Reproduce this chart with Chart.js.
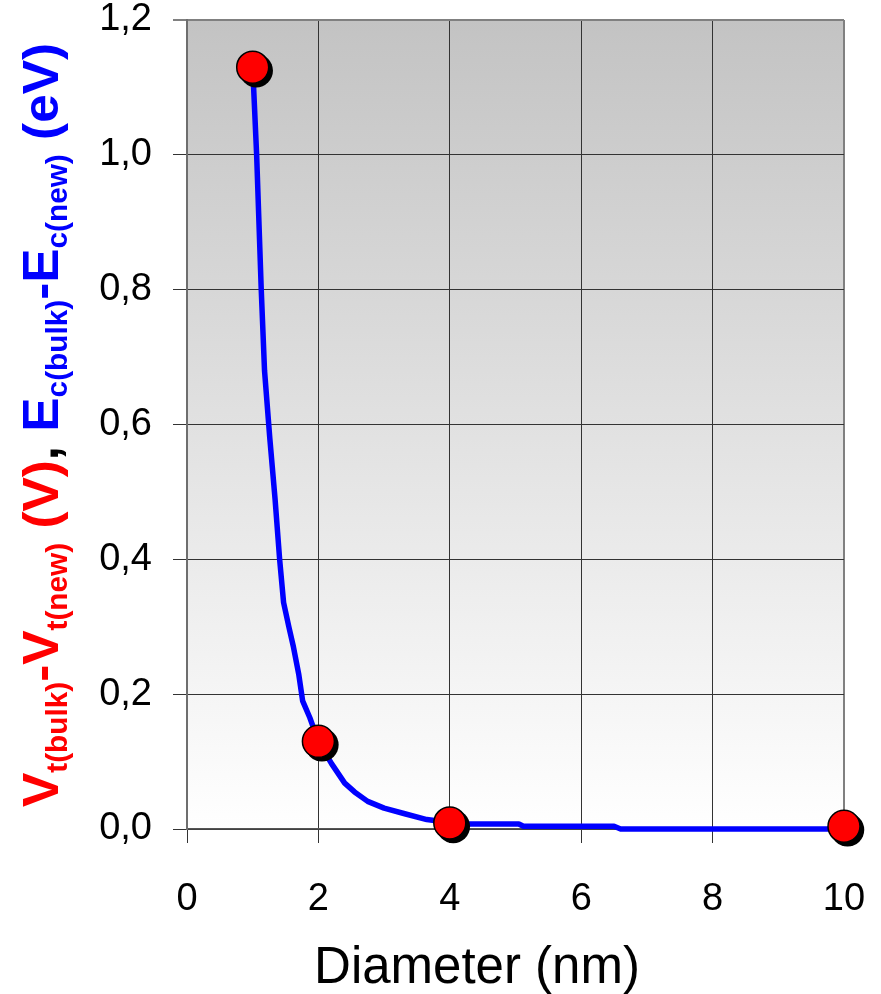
<!DOCTYPE html>
<html>
<head>
<meta charset="utf-8">
<script src="https://cdn.jsdelivr.net/npm/chart.js@4/dist/chart.umd.min.js"></script>
<style>
  html, body { margin: 0; padding: 0; background: #ffffff; }
  canvas { display: block; }
</style>
</head>
<body>
<canvas id="c" width="881" height="994"></canvas>
<script>
// Measured shift for each quantum-dot diameter (nm)
const markerDiameters = [1, 2, 4, 10];
const markerShifts = [1.13, 0.13, 0.009, 0.004];

// Fitted curve through the measured shifts
const curveDiameters = [1.0, 1.06, 1.13, 1.18, 1.26, 1.34, 1.41, 1.47, 1.55, 1.62, 1.70, 1.76, 1.87, 2.0,
  2.2, 2.4, 2.55, 2.75, 3.0, 3.3, 3.65, 4.0, 4.3, 5.05, 5.12, 6.5, 6.6, 10];
const curveShifts = [1.13, 1.0, 0.80, 0.68, 0.58, 0.49, 0.40, 0.336, 0.30, 0.27, 0.23, 0.19, 0.165, 0.13,
  0.097, 0.068, 0.055, 0.041, 0.031, 0.023, 0.014, 0.0096, 0.0075, 0.0075, 0.004, 0.004, 0.0, 0.0];

// Axis tick labels
const xTickLabels = ['0', '2', '4', '6', '8', '10'];
const yTickLabels = ['0,0', '0,2', '0,4', '0,6', '0,8', '1,0', '1,2'];

// Axis titles
const xTitle = 'Diameter (nm)';
// Y title pieces: [text, colour, isSubscript]
const yTitleParts = [
  ['V', '#ff0000', false],
  ['t(bulk)', '#ff0000', true],
  ['-V', '#ff0000', false],
  ['t(new)', '#ff0000', true],
  [' (V)', '#ff0000', false],
  [',', '#000000', false],
  [' ', '#000000', false],
  ['E', '#0000ff', false],
  ['c(bulk)', '#0000ff', true],
  ['-E', '#0000ff', false],
  ['c(new)', '#0000ff', true],
  [' (eV)', '#0000ff', false]
];

const FONT = '"Liberation Sans", Arial, Helvetica, sans-serif';

const toPoints = (xs, ys) => xs.map((x, i) => ({ x: x, y: ys[i] }));

// Grey gradient behind the plot area
const plotBackground = {
  id: 'plotBackground',
  beforeDraw(chart) {
    const { ctx, chartArea: a } = chart;
    ctx.save();
    ctx.fillStyle = '#ffffff';
    ctx.fillRect(0, 0, chart.width, chart.height);
    const g = ctx.createLinearGradient(0, a.top, 0, a.bottom);
    g.addColorStop(0, '#c3c3c3');
    g.addColorStop(1, '#ffffff');
    ctx.fillStyle = g;
    ctx.fillRect(a.left, a.top, a.right - a.left, a.bottom - a.top);
    ctx.restore();
  }
};

// Solid black drop shadow under each round marker
const markerShadow = {
  id: 'markerShadow',
  beforeDatasetDraw(chart, args) {
    if (args.index !== 0) return;
    const ctx = chart.ctx;
    const meta = chart.getDatasetMeta(0);
    ctx.save();
    ctx.fillStyle = '#000000';
    meta.data.forEach(pt => {
      const r = pt.options.radius + pt.options.borderWidth / 2;
      ctx.beginPath();
      ctx.arc(pt.x + 3.5, pt.y + 3.5, r, 0, Math.PI * 2);
      ctx.fill();
    });
    ctx.restore();
  }
};

// Axis titles, including the two-coloured rotated y title with subscripts
const axisTitles = {
  id: 'axisTitles',
  afterDraw(chart) {
    const ctx = chart.ctx;
    ctx.save();
    // x title
    ctx.fillStyle = '#000000';
    ctx.font = '51px ' + FONT;
    ctx.textAlign = 'center';
    ctx.textBaseline = 'alphabetic';
    ctx.fillText(xTitle, 477, 983);

    // y title
    const mainFont = 'bold 50px ' + FONT;
    const subFont = 'bold 29px ' + FONT;
    const subShift = 9;
    let total = 0;
    const widths = yTitleParts.map(p => {
      ctx.font = p[2] ? subFont : mainFont;
      const w = ctx.measureText(p[0]).width;
      total += w;
      return w;
    });
    const startY = 807, endY = 43;
    const stretch = (startY - endY) / total;
    ctx.translate(58, startY);
    ctx.rotate(-Math.PI / 2);
    ctx.scale(stretch, 1);
    ctx.textAlign = 'left';
    let x = 0;
    yTitleParts.forEach((p, i) => {
      ctx.font = p[2] ? subFont : mainFont;
      ctx.fillStyle = p[1];
      ctx.fillText(p[0], x, p[2] ? subShift : 0);
      x += widths[i];
    });
    ctx.restore();
  }
};

const lastX = xTickLabels.length - 1;
const lastY = yTickLabels.length - 1;

new Chart(document.getElementById('c'), {
  type: 'scatter',
  data: {
    datasets: [
      {
        label: 'markers',
        data: toPoints(markerDiameters, markerShifts),
        pointRadius: 16,
        pointHoverRadius: 16,
        pointBackgroundColor: '#ff0000',
        pointBorderColor: '#000000',
        pointBorderWidth: 1.5,
        showLine: false,
        clip: false,
        order: 0
      },
      {
        label: 'curve',
        data: toPoints(curveDiameters, curveShifts),
        showLine: true,
        borderColor: '#0000ff',
        borderWidth: 5.5,
        borderJoinStyle: 'round',
        borderCapStyle: 'round',
        pointRadius: 0,
        tension: 0,
        clip: false,
        order: 1
      }
    ]
  },
  options: {
    responsive: false,
    animation: false,
    devicePixelRatio: 1,
    layout: { padding: { left: 0, top: 20, right: 37, bottom: 0 } },
    plugins: { legend: { display: false }, tooltip: { enabled: false }, title: { display: false } },
    scales: {
      x: {
        type: 'linear',
        min: 0,
        max: 10,
        afterFit(scale) {
          scale.height = 165;
          scale.paddingLeft = 0;
          scale.paddingRight = 0;
        },
        ticks: {
          stepSize: 2,
          color: '#000000',
          font: { family: FONT, size: 38, lineHeight: 1 },
          padding: 38,
          maxRotation: 0,
          callback: (v, i) => xTickLabels[i]
        },
        grid: {
          color: c => (c.index === lastX ? '#808080' : '#333333'),
          lineWidth: c => (c.index === lastX ? 2 : 1),
          tickLength: 14,
          drawTicks: true
        },
        border: { color: '#555555', width: 1.5 }
      },
      y: {
        type: 'linear',
        min: 0,
        max: 1.2,
        afterFit(scale) {
          scale.width = 187;
          scale.paddingTop = 0;
          scale.paddingBottom = 0;
        },
        ticks: {
          stepSize: 0.2,
          color: '#000000',
          font: { family: FONT, size: 38, lineHeight: 1 },
          padding: 21,
          callback: (v, i) => yTickLabels[i]
        },
        grid: {
          color: c => (c.index === lastY ? '#808080' : '#333333'),
          lineWidth: c => (c.index === lastY ? 2 : 1),
          tickLength: 14,
          drawTicks: true
        },
        border: { color: '#6e6e6e', width: 2 }
      }
    }
  },
  plugins: [plotBackground, markerShadow, axisTitles]
});
</script>
</body>
</html>
